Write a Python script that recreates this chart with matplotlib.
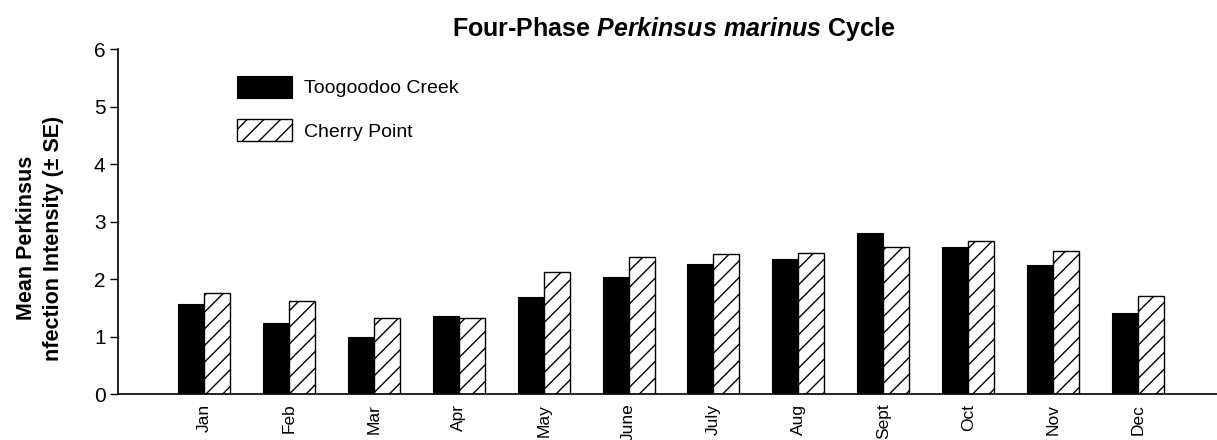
import numpy as np
import matplotlib
matplotlib.use('Agg')
import matplotlib.pyplot as plt

plt.rcParams['font.family'] = ['Liberation Sans', 'DejaVu Sans']
plt.rcParams['mathtext.fontset'] = 'custom'
plt.rcParams['mathtext.it'] = 'Liberation Sans:italic:bold'
plt.rcParams['mathtext.rm'] = 'Liberation Sans:bold'
plt.rcParams['hatch.linewidth'] = 1.0

months = ['Jan', 'Feb', 'Mar', 'Apr', 'May', 'June', 'July', 'Aug', 'Sept', 'Oct', 'Nov', 'Dec']
toogoodoo = [1.57, 1.23, 1.00, 1.36, 1.68, 2.04, 2.26, 2.34, 2.80, 2.56, 2.25, 1.41]
cherry = [1.76, 1.62, 1.32, 1.33, 2.12, 2.38, 2.44, 2.46, 2.56, 2.66, 2.49, 1.71]

fig = plt.figure(figsize=(12.17, 4.40), dpi=100)
ax = fig.add_axes([118/1217, 46/440, 1 - 118/1217, 345/440])

x = np.arange(len(months))
w = 0.306
ax.bar(x - w/2, toogoodoo, w, color='black', edgecolor='black', linewidth=0.8, label='Toogoodoo Creek')
ax.bar(x + w/2, cherry, w, color='white', edgecolor='black', linewidth=1.0, hatch='//', label='Cherry Point')

ax.set_xlim(-1.013, 11.93)
ax.set_ylim(0, 6)
ax.set_yticks(range(7))
ax.set_xticks(x)
ax.set_xticklabels(months, rotation=90)
ax.tick_params(axis='x', length=0, pad=7, labelsize=12.5)
ax.tick_params(axis='y', length=6, width=1, labelsize=15, pad=3)
for s in ['top', 'right']:
    ax.spines[s].set_visible(False)
for s in ['left', 'bottom']:
    ax.spines[s].set_linewidth(1.2)

ax.legend(loc='upper left', bbox_to_anchor=(237/1217, 1 - 76/440), bbox_transform=fig.transFigure,
          frameon=False, fontsize=14, handlelength=2.85, handleheight=1.35, labelspacing=1.1,
          borderpad=0, borderaxespad=0, handletextpad=0.6)

fig.text(674/1217, 1 - 29/440, r'Four-Phase $\mathit{Perkinsus\ marinus}$ Cycle',
         ha='center', va='center', fontsize=18, fontweight='bold')
fig.text(40/1217, 1 - 238/440, 'Mean Perkinsus\nnfection Intensity (± SE)',
         ha='center', va='center', rotation=90, fontsize=15.5, fontweight='bold',
         multialignment='center', linespacing=1.35)

fig.savefig('out.png', dpi=100)
